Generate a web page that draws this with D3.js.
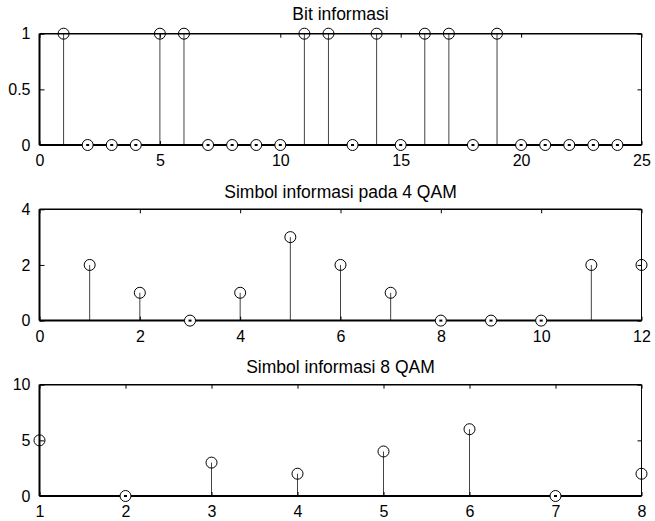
<!DOCTYPE html>
<html><head><meta charset="utf-8">
<script src="https://cdn.jsdelivr.net/npm/d3@7"></script>
<style>
body{margin:0;background:#fff;}
svg{display:block;}
text{font-family:"Liberation Sans",Arial,sans-serif;fill:#000;}
</style></head>
<body>
<script>
// ---- data ----
const titles = ["Bit informasi", "Simbol informasi pada 4 QAM", "Simbol informasi 8 QAM"];
const bitIdx = d3.range(1, 25);
const bitVals = [1,0,0,0,1,1,0,0,0,0,1,1,0,1,0,1,1,0,1,0,0,0,0,0];
const qam4Idx = d3.range(1, 13);
const qam4Vals = [2,1,0,1,3,2,1,0,0,0,2,2];
const qam8Idx = d3.range(1, 9);
const qam8Vals = [5,0,3,2,4,6,0,2];
const xTicks1 = [0,5,10,15,20,25];
const yTicks1 = [0,0.5,1];
const xTicks2 = [0,2,4,6,8,10,12];
const yTicks2 = [0,2,4];
const xTicks3 = [1,2,3,4,5,6,7,8];
const yTicks3 = [0,5,10];

const W = 655, H = 521;
const svg = d3.select("body").append("svg").attr("width", W).attr("height", H);

const panels = [
  {title: titles[0], idx: bitIdx, vals: bitVals, xd: [0,25], yd: [0,1], xt: xTicks1, yt: yTicks1, top: 33.7, titleY: 19.5},
  {title: titles[1], idx: qam4Idx, vals: qam4Vals, xd: [0,12], yd: [0,4], xt: xTicks2, yt: yTicks2, top: 209.3, titleY: 197.5},
  {title: titles[2], idx: qam8Idx, vals: qam8Vals, xd: [1,8], yd: [0,10], xt: xTicks3, yt: yTicks3, top: 384.7, titleY: 372.5}
];
const L = 39.5, R = 641.5, PH = 111.3;

panels.forEach(p => {
  const x = d3.scaleLinear().domain(p.xd).range([L, R]);
  const y = d3.scaleLinear().domain(p.yd).range([p.top + PH, p.top]);
  const g = svg.append("g");

  // title
  g.append("text").attr("x", (L + R) / 2).attr("y", p.titleY)
    .attr("text-anchor", "middle").style("font-size", "17.5px").text(p.title);

  // stems
  const data = p.idx.map((d, i) => ({x: d, v: p.vals[i]}));
  g.selectAll("line.stem").data(data).join("line")
    .attr("x1", d => x(d.x)).attr("x2", d => x(d.x))
    .attr("y1", y(0)).attr("y2", d => y(d.v))
    .attr("stroke", "#444").attr("stroke-width", 1);

  // frame
  g.append("line").attr("x1", L).attr("x2", R).attr("y1", p.top).attr("y2", p.top).attr("stroke", "#000").attr("stroke-width", 1.5);
  g.append("line").attr("x1", L).attr("x2", R).attr("y1", p.top + PH).attr("y2", p.top + PH).attr("stroke", "#000").attr("stroke-width", 2);
  g.append("line").attr("x1", L).attr("x2", L).attr("y1", p.top).attr("y2", p.top + PH).attr("stroke", "#000").attr("stroke-width", 2);
  g.append("line").attr("x1", R).attr("x2", R).attr("y1", p.top).attr("y2", p.top + PH).attr("stroke", "#000").attr("stroke-width", 1);

  // axes with inward ticks
  const xa = g.append("g").attr("transform", `translate(0,${p.top + PH})`)
    .call(d3.axisBottom(x).tickValues(p.xt).tickSize(-4).tickPadding(10).tickFormat(d3.format("")));
  const xaTop = g.append("g").attr("transform", `translate(0,${p.top})`)
    .call(d3.axisTop(x).tickValues(p.xt).tickSize(-4).tickFormat(""));
  const ya = g.append("g").attr("transform", `translate(${L},0)`)
    .call(d3.axisLeft(y).tickValues(p.yt).tickSize(-5).tickPadding(9).tickFormat(d3.format("")));
  const yaR = g.append("g").attr("transform", `translate(${R},0)`)
    .call(d3.axisRight(y).tickValues(p.yt).tickSize(-4).tickFormat(""));
  [xa, xaTop, ya, yaR].forEach(a => {
    a.select(".domain").remove();
    a.selectAll(".tick line").attr("stroke", "#000").attr("stroke-width", 1);
    a.selectAll("text").style("font-size", "16px").attr("fill", "#000");
  });

  // markers
  g.selectAll("circle.mk").data(data).join("circle")
    .attr("cx", d => x(d.x)).attr("cy", d => y(d.v)).attr("r", 5.5)
    .attr("fill", d => d.v === 0 ? "#fff" : "none")
    .attr("stroke", "#000").attr("stroke-width", 1);
  g.selectAll("rect.dot").data(data.filter(d => d.v === 0)).join("rect")
    .attr("x", d => x(d.x) - 1.5).attr("y", d => y(d.v) - 1)
    .attr("width", 3).attr("height", 2).attr("fill", "#000");
});
</script>
</body></html>
